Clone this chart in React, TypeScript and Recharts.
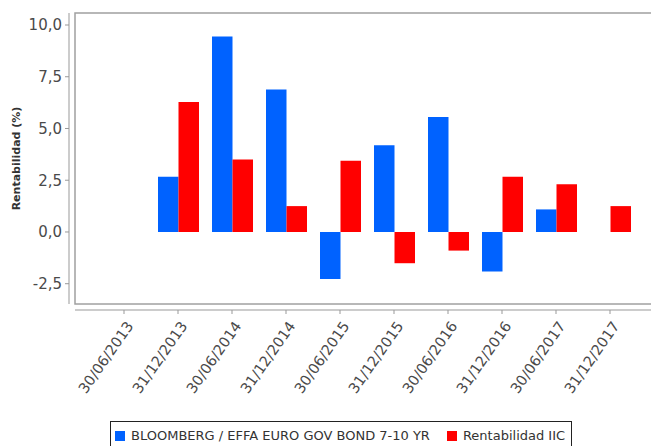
import { Bar, BarChart, CartesianGrid, Legend, XAxis, YAxis } from 'recharts';

const BLUE = '#0062ff';
const RED = '#ff0000';
const AXIS = '#999999';
const TEXT = '#4a4a4a';
const FONT = 'DejaVu Sans';

const dates = [
  '30/06/2013',
  '31/12/2013',
  '30/06/2014',
  '31/12/2014',
  '30/06/2015',
  '31/12/2015',
  '30/06/2016',
  '31/12/2016',
  '30/06/2017',
  '31/12/2017',
];
const bloomberg = [null, 2.67, 9.45, 6.88, -2.27, 4.19, 5.56, -1.91, 1.09, null];
const iic = [null, 6.28, 3.5, 1.25, 3.44, -1.51, -0.9, 2.67, 2.3, 1.25];
const yTicks = [-2.5, 0, 2.5, 5, 7.5, 10];
const yDomain: [number, number] = [-3.48, 10.58];

const data = dates.map((date, i) => ({ date, bloomberg: bloomberg[i], iic: iic[i] }));

function formatValue(v: number) {
  return v.toFixed(1).replace('.', ',');
}

function DateTick({ x, y, payload }: any) {
  const px = x + 10;
  const py = y + 16;
  return (
    <text
      x={px}
      y={py}
      transform={`rotate(-55, ${px}, ${py})`}
      textAnchor="end"
      fill={TEXT}
      fontSize={14.5}
      fontFamily={FONT}
    >
      {payload.value}
    </text>
  );
}

function renderLegend(props: any) {
  const items = props.payload || [];
  return (
    <div
      style={{
        display: 'inline-flex',
        alignItems: 'center',
        border: '1px solid #222',
        padding: '8px 6px 12px 4px',
        background: '#fff',
        fontFamily: FONT,
        fontSize: 13,
        color: '#333',
        whiteSpace: 'nowrap',
        lineHeight: '12px',
      }}
    >
      {items.map((p: any, i: number) => (
        <span
          key={p.value}
          style={{ display: 'inline-flex', alignItems: 'center', marginLeft: i ? 17 : 0 }}
        >
          <span
            style={{ width: 10, height: 10, background: p.color, marginRight: 6, display: 'inline-block' }}
          />
          {p.value}
        </span>
      ))}
    </div>
  );
}

export default function App() {
  return (
    <div
      style={{
        position: 'absolute',
        left: 0,
        top: 0,
        width: 651,
        height: 446,
        overflow: 'hidden',
        background: '#fff',
      }}
    >
      <style>{`.recharts-xAxis{transform:translateY(6px)} .recharts-yAxis{transform:translateX(-6px)} .recharts-cartesian-grid-bg{stroke:#a0a0a0;stroke-width:1.5px}`}</style>
      <BarChart
        width={655}
        height={446}
        data={data}
        margin={{ top: 13, right: 2, bottom: 0, left: 0 }}
        barGap={0}
      >
        <CartesianGrid horizontal={false} vertical={false} fill="#fff" />
        <XAxis
          dataKey="date"
          interval={0}
          padding={{ left: 22, right: 16 }}
          height={142}
          tickSize={4}
          tickMargin={2}
          tick={<DateTick />}
          axisLine={{ stroke: AXIS }}
          tickLine={{ stroke: AXIS }}
        />
        <YAxis
          width={75}
          domain={yDomain}
          ticks={yTicks}
          allowDataOverflow
          tickFormatter={formatValue}
          tickSize={4}
          tickMargin={9}
          axisLine={{ stroke: AXIS }}
          tickLine={{ stroke: AXIS }}
          tick={{ fill: TEXT, fontSize: 15, fontFamily: FONT }}
          label={{
            value: 'Rentabilidad (%)',
            angle: -90,
            position: 'insideLeft',
            offset: 16,
            style: { textAnchor: 'middle', fontSize: 11, fontWeight: 'bold', fill: '#333', fontFamily: FONT },
          }}
        />
        <Legend
          layout="vertical"
          align="center"
          verticalAlign="middle"
          content={renderLegend}
          wrapperStyle={{ left: 110, top: 421, width: 'auto' }}
        />
        <Bar
          dataKey="bloomberg"
          name="BLOOMBERG / EFFA EURO GOV BOND 7-10 YR"
          fill={BLUE}
          barSize={20.5}
          isAnimationActive={false}
        />
        <Bar
          dataKey="iic"
          name="Rentabilidad IIC"
          fill={RED}
          barSize={20.5}
          isAnimationActive={false}
        />
      </BarChart>
    </div>
  );
}
